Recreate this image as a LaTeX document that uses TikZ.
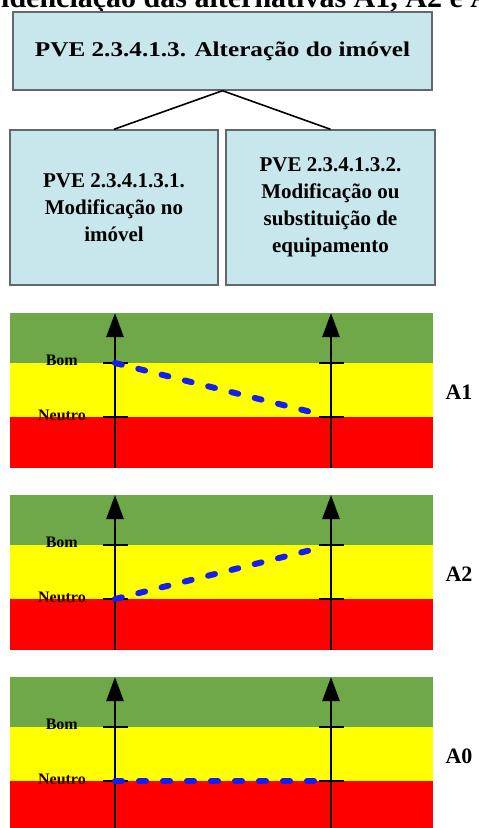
\documentclass[tikz,border=0pt]{standalone}
\usepackage{fontspec}
\setmainfont{Liberation Serif}
\newfontfamily\widefont[FakeStretch=1.2]{Liberation Serif}
\usetikzlibrary{arrows.meta}

\definecolor{boxblue}{RGB}{200,231,236}
\definecolor{boxedge}{RGB}{100,104,106}
\definecolor{bandgreen}{RGB}{110,168,72}
\definecolor{bandyellow}{RGB}{255,255,0}
\definecolor{bandred}{RGB}{255,0,0}
\definecolor{linkblue}{RGB}{20,30,240}

\tikzset{
  pvebox/.style={draw=boxedge, line width=1.4pt, fill=boxblue, align=center,
    font=\bfseries\fontsize{21}{27}\selectfont, inner sep=0pt},
  branch/.style={line width=1.6pt, black},
  axisline/.style={line width=2.6pt, -{Triangle[length=24pt,width=17pt]}},
  tickmark/.style={line width=2.6pt},
  levellabel/.style={font=\bfseries\fontsize{16}{16}\selectfont, inner sep=0pt},
  altlabel/.style={font=\bfseries\fontsize{22}{22}\selectfont, inner sep=0pt},
  valueline/.style={linkblue, line width=6pt, line cap=round, dash pattern=on 7pt off 17pt}
}

\begin{document}
\begin{tikzpicture}[x=1pt,y=-1pt]
\useasboundingbox (0,0) rectangle (479,828);
\clip (0,0) rectangle (479,828);

% titulo (cortado no topo)
\node[anchor=base west, inner sep=0pt, font=\bfseries\fontsize{30}{30}\selectfont] (titulo) at (1,7)
  {\llap{Ev}idenciação das alternativas A1, A2 e A0};

% arvore de PVEs
\node[pvebox, minimum width=419pt, minimum height=78pt, font=\widefont\bfseries\fontsize{21}{24}\selectfont] (pve) at (222.5,51)
  {PVE 2.3.4.1.3. Alteração do imóvel};
\node[pvebox, minimum width=208pt, minimum height=155pt] (pveA) at (114,207.5)
  {PVE 2.3.4.1.3.1.\\Modificação no\\imóvel};
\node[pvebox, minimum width=209pt, minimum height=155pt] (pveB) at (330.5,207.5)
  {PVE 2.3.4.1.3.2.\\Modificação ou\\substituição de\\equipamento};
\draw[branch] (pve.south) -- (pveA.north);
\draw[branch] (pve.south) -- (pveB.north);

% paineis das alternativas
\foreach \ty/\nm/\lv/\rv in {313/A1/b/n, 495/A2/n/b, 677/A0/n/n}{
  \fill[bandgreen]  (10,\ty)      rectangle (433,\ty+50);
  \fill[bandyellow] (10,\ty+50)   rectangle (433,\ty+104);
  \fill[bandred]    (10,\ty+104)  rectangle (433,\ty+155);
  \coordinate (\nm-lb) at (115,\ty+50);
  \coordinate (\nm-ln) at (115,\ty+104);
  \coordinate (\nm-rb) at (331,\ty+50);
  \coordinate (\nm-rn) at (331,\ty+104);
  \draw[axisline] (115,\ty+155) -- (115,\ty);
  \draw[axisline] (331,\ty+155) -- (331,\ty);
  \foreach \p in {lb,ln,rb,rn}
    \draw[tickmark] ([xshift=-12.5pt]\nm-\p) -- ([xshift=12.5pt]\nm-\p);
  \node[levellabel, anchor=east] (\nm-bom) at (78,\ty+47) {Bom};
  \node[levellabel, anchor=east, text=black!85!red] (\nm-neutro) at (86,\ty+102) {Neutro};
  \draw[valueline, shorten >=13pt] (\nm-l\lv) -- (\nm-r\rv);
  \node[altlabel] (\nm) at (459,\ty+79) {\nm};
}
\end{tikzpicture}
\end{document}
